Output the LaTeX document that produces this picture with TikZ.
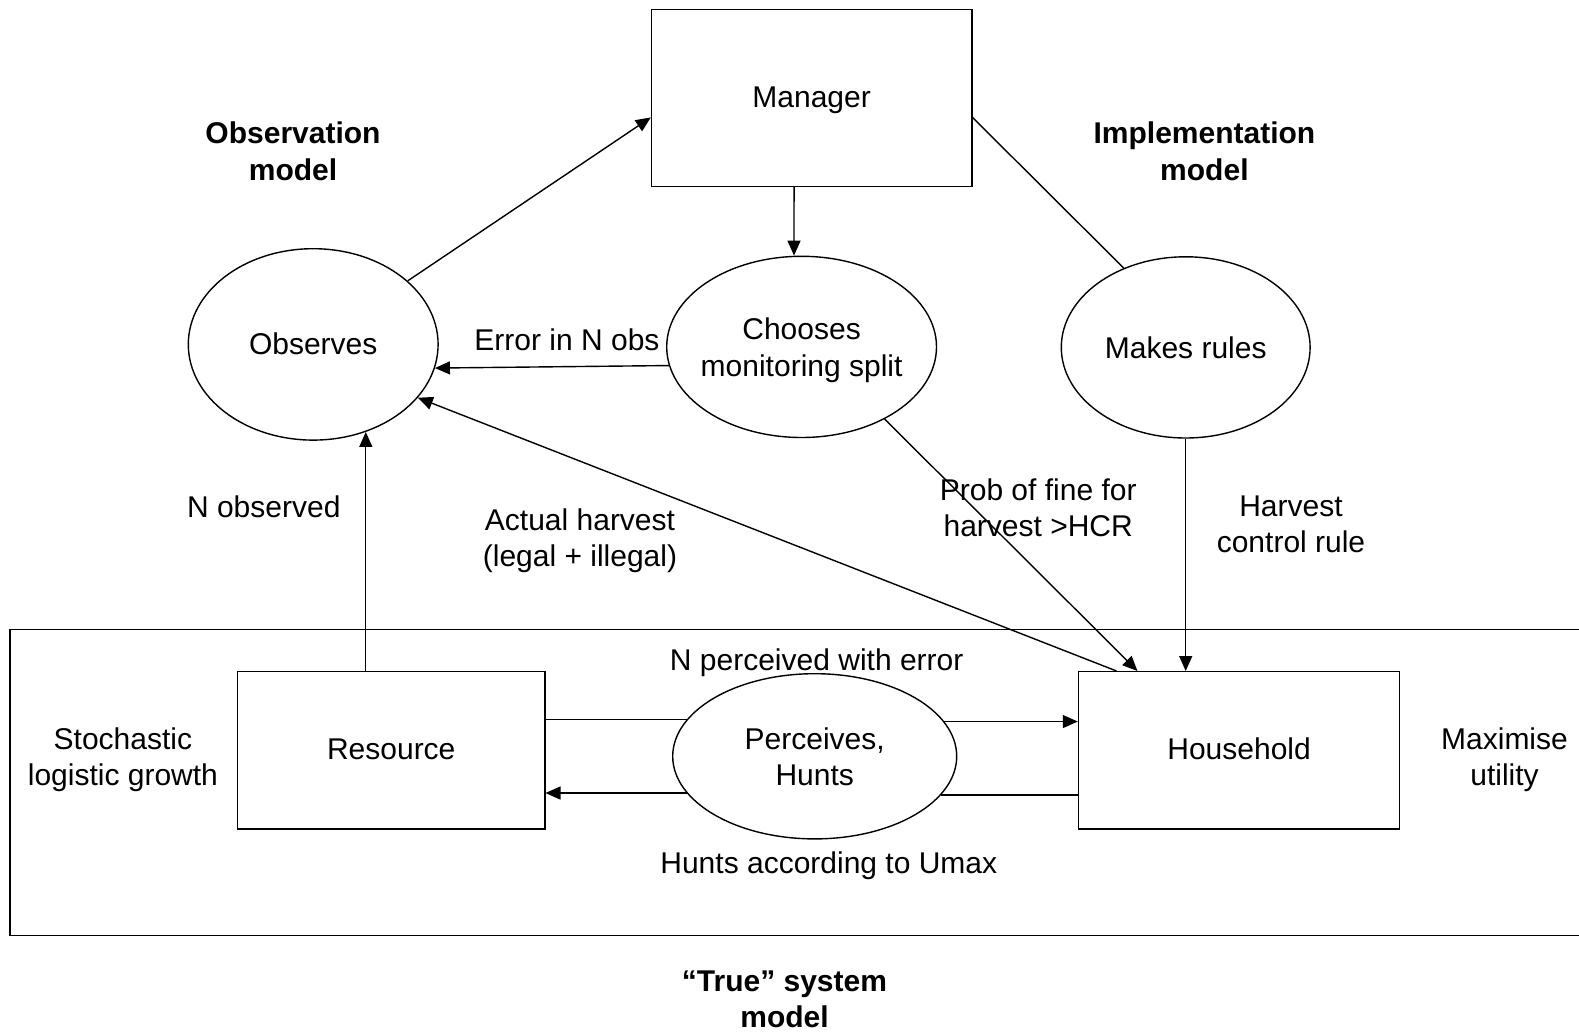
\documentclass[tikz,border=0pt]{standalone}
\usepackage{fontspec}
\setmainfont{Liberation Sans}
\usetikzlibrary{shapes.geometric,arrows.meta,calc}
% fixed box dimensions so that text sits at the same optical height as in the reference
\newcommand\onel[1]{\raisebox{0pt}[21.4pt][0pt]{#1}}
\newcommand\inbox[1]{\raisebox{0pt}[19.4pt][0pt]{#1}}
\newcommand\twol[2]{\raisebox{0pt}[58.6pt][0pt]{\vbox{\halign{\hfil##\hfil\cr #1\cr #2\cr}}}}
\begin{document}
\begin{tikzpicture}[x=1pt,y=1pt,
  line width=1.4pt,
  every node/.style={font=\fontsize{30}{36.3}\selectfont, inner sep=0pt},
  boxn/.style={draw, rectangle},
  elln/.style={draw, ellipse, fill=white, inner xsep=-20pt},
  lbl/.style={},
  ttl/.style={font=\fontsize{30}{36.3}\selectfont\bfseries},
  arr/.style={-{Triangle[length=15pt,width=13pt]}}]
\useasboundingbox (0,0) rectangle (1579,-1032);
\fill[white] (0,0) rectangle (1579,-1032);

% outer "true system" frame
\node[boxn, line width=1.7pt, minimum width=1575, minimum height=306.1] (sys) at (797.5,-782.45) {};

% main nodes
\node[boxn, minimum width=320.3, minimum height=177] (mgr) at (811.65,-97.8) {\inbox{Manager}};
\node[elln, minimum width=249.8, minimum height=191.4] (obs) at (313.2,-344.4) {\inbox{Observes}};
\node[elln, minimum width=269.8, minimum height=181.2] (chs) at (801.6,-346.9) {\twol{Chooses}{monitoring split}};
\node[elln, minimum width=248.8, minimum height=181.2] (mkr) at (1185.7,-347.4) {\onel{Makes rules}};
\node[boxn, minimum width=307.1, minimum height=157.1] (res) at (391.25,-750.25) {\inbox{Resource}};
\node[boxn, minimum width=321.2, minimum height=157.1] (hh) at (1239.1,-750.25) {\inbox{Household}};
\node[elln, minimum width=284, minimum height=165.2] (per) at (814.7,-756.3) {\twol{Perceives,}{Hunts}};

% titles
\node[ttl] (tobs) at (293,-151) {\twol{Observation}{model}};
\node[ttl] (timp) at (1204.4,-151) {\twol{Implementation}{model}};
\node[ttl] (ttrue) at (784.5,-998.4) {\twol{“True” system}{model}};

% labels
\node[lbl] (lerr) at (567,-339.4) {\onel{Error in N obs}};
\node[lbl] (lnobs) at (263.8,-506.5) {\onel{N observed}};
\node[lbl] (lact) at (580,-537.2) {\twol{Actual harvest}{(legal + illegal)}};
\node[lbl] (lprob) at (1038.2,-507) {\twol{Prob of fine for}{harvest >HCR}};
\node[lbl] (lhcr) at (1291,-523.1) {\twol{Harvest}{control rule}};
\node[lbl] (lperc) at (816.7,-659.6) {\onel{N perceived with error}};
\node[lbl] (lhunt) at (828.8,-863) {\onel{Hunts according to Umax}};
\node[lbl] (lstoch) at (122.9,-756.2) {\twol{Stochastic}{logistic growth}};
\node[lbl] (lmax) at (1504.5,-756.2) {\twol{Maximise}{utility}};

% connectors
\draw[arr] (obs) -- ($(mgr.north west)!0.61!(mgr.south west)$);
\draw[arr] ([xshift=-17.6pt]mgr.south) -- ([xshift=-7.6pt]chs.north);
\draw ($(mgr.north east)!0.61!(mgr.south east)$) -- (mkr.128);
\draw[arr] (chs.188.5) -- (obs.349.7);
\draw[arr] ($(hh.north west)!0.12!(hh.north east)$) -- (obs.333);
\draw[arr] (chs.319.7) -- ($(hh.north west)!0.185!(hh.north east)$);
\draw[arr] (mkr.south) -- (mkr.south |- hh.north);
\draw[arr] (obs.301.6 |- res.north) -- (obs.301.6);

\draw (res.east |- per.164.6) -- (per.164.6);
\draw[arr] (per.15.4) -- (hh.west |- per.15.4);
\draw (hh.west |- per.343.65) -- (per.343.65);
\draw[arr] (per.196.35) -- (res.east |- per.196.35);
\end{tikzpicture}
\end{document}
